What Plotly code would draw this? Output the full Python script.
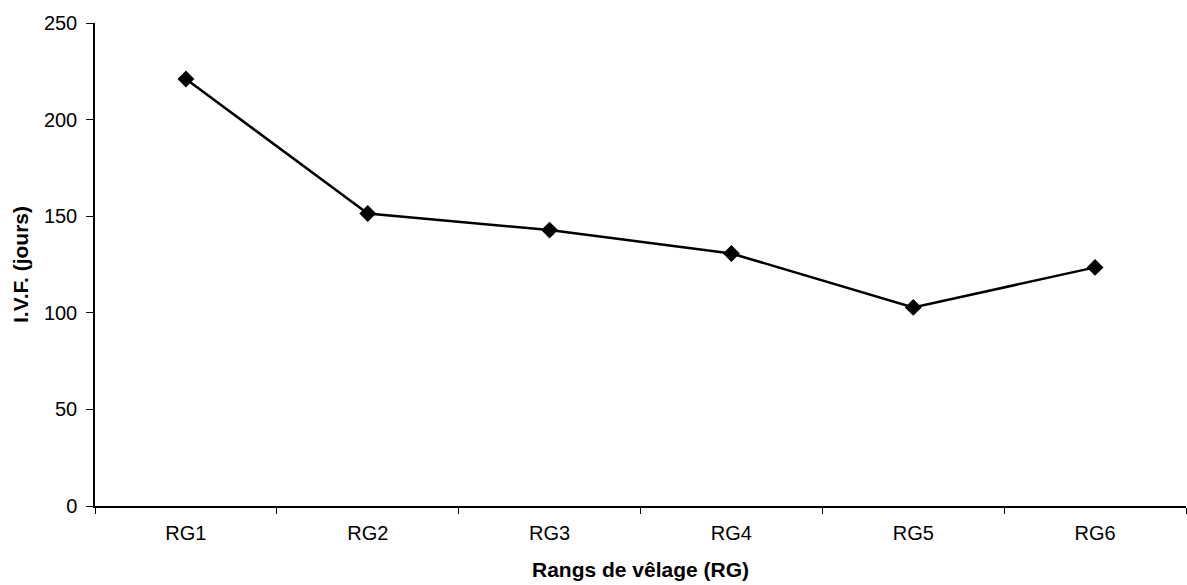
import plotly.graph_objects as go

categories = ["RG1", "RG2", "RG3", "RG4", "RG5", "RG6"]
ivf_days = [221, 151.4, 142.8, 130.7, 102.8, 123.5]

x_title = "Rangs de vêlage (RG)"
y_title = "I.V.F. (jours)"

fig = go.Figure()
fig.add_trace(go.Scatter(
    x=categories, y=ivf_days, mode="lines+markers",
    line=dict(color="black", width=2.5),
    marker=dict(symbol="diamond", size=13, color="black"),
    showlegend=False,
))

font_family = "Liberation Sans, Arial, sans-serif"
fig.update_layout(
    width=1187, height=585,
    margin=dict(l=95, r=1, t=23, b=79),
    paper_bgcolor="white", plot_bgcolor="white",
    font=dict(family=font_family, size=20, color="black"),
)
fig.update_xaxes(
    type="category", range=[-0.5, 5.5],
    showline=True, linecolor="black", linewidth=1.5,
    ticks="outside", tickson="boundaries", ticklen=6, tickcolor="black", tickwidth=1.2,
    showgrid=False, zeroline=False,
    tickfont=dict(size=20), ticklabelstandoff=8,
    title=dict(text=x_title, font=dict(size=21, weight="bold"), standoff=20),
)
fig.update_yaxes(
    range=[0, 250], dtick=50,
    showline=True, linecolor="black", linewidth=1.5,
    ticks="outside", ticklen=7, tickcolor="black", tickwidth=1.2,
    showgrid=False, zeroline=False,
    tickfont=dict(size=20), ticklabelstandoff=5,
    title=dict(text=y_title, font=dict(size=21, weight="bold"), standoff=10),
)

fig.write_html("out.html")
